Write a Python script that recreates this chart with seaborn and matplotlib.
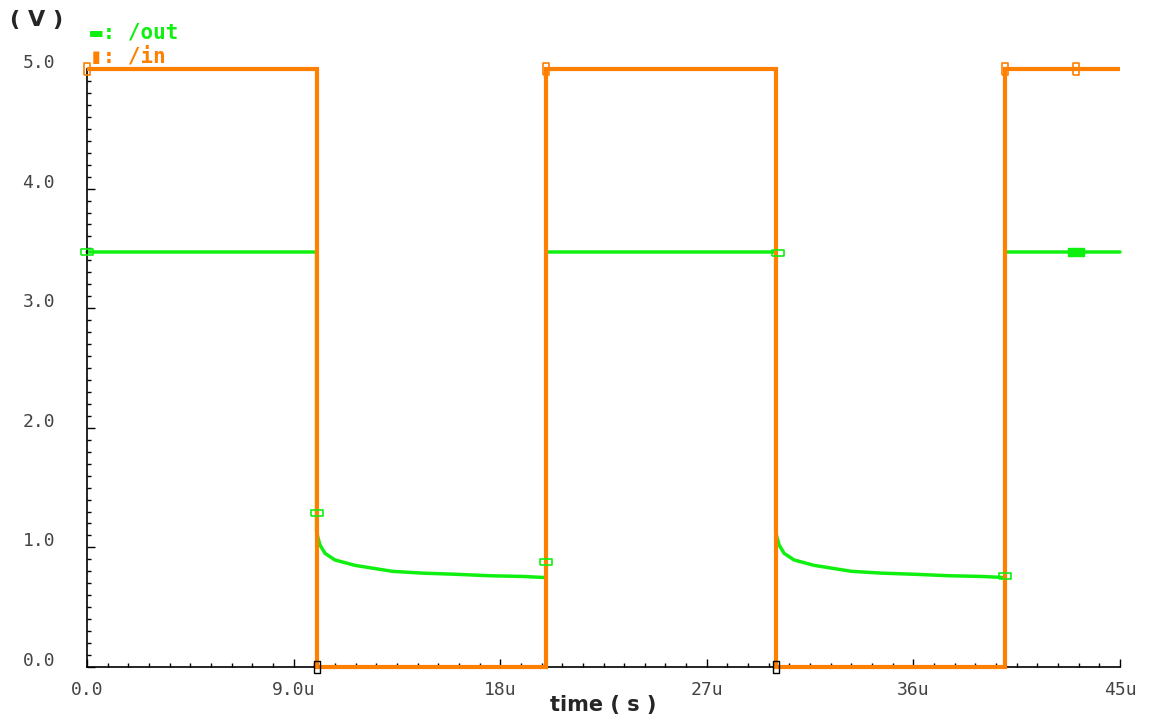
import matplotlib
matplotlib.use("Agg")
import matplotlib.pyplot as plt
import matplotlib.transforms as mtransforms
import seaborn as sns

# temps en microsecondes, tensions en volts
t_in = [0, 10, 10, 20, 20, 30, 30, 40, 40, 45]
v_in = [5, 5, 0, 0, 5, 5, 0, 0, 5, 5]

t_out = [0, 10, 10, 10.05, 10.15, 10.37, 10.8, 11.67, 13.3, 14.6, 16.1, 17.55, 19.0, 19.95,
         20, 20, 30, 30, 30.05, 30.15, 30.37, 30.8, 31.67, 33.3, 34.6, 36.1, 37.55, 39.0, 39.95,
         40, 40, 45]
v_out = [3.47, 3.47, 1.14, 1.09, 1.02, 0.95, 0.895, 0.85, 0.80, 0.785, 0.775, 0.763, 0.757, 0.748,
         0.748, 3.47, 3.47, 1.13, 1.09, 1.02, 0.95, 0.895, 0.85, 0.80, 0.785, 0.775, 0.763, 0.757, 0.748,
         0.748, 3.47, 3.47]

# marqueurs du viewer
mk_out_t = [0, 10, 20, 30.1, 40]
mk_out_v = [3.47, 1.29, 0.88, 3.46, 0.76]
mk_out_fill_t = [43.1]
mk_out_fill_v = [3.47]
mk_in_t = [0, 20, 40, 43.1]
mk_in_v = [5, 5, 5, 5]
mk_in_low_t = [10, 30]
mk_in_low_v = [0, 0]

x_ticks = [0, 9, 18, 27, 36, 45]
x_labels = ["0.0", "9.0u", "18u", "27u", "36u", "45u"]
y_ticks = [0, 1, 2, 3, 4, 5]
y_labels = ["0.0", "1.0", "2.0", "3.0", "4.0", "5.0"]

VERT = "#10F010"
ORANGE = "#FF8000"

sns.set_style("white")
plt.rcParams["font.family"] = ["DejaVu Sans Mono", "DejaVu Sans"]

fig = plt.figure(figsize=(11.49, 7.23), dpi=100)
ax = fig.add_axes([87 / 1149, 1 - 667 / 723, (1120 - 87) / 1149, (667 - 69) / 723])

sns.lineplot(x=t_out, y=v_out, sort=False, estimator=None, color=VERT,
             linewidth=2.5, ax=ax, clip_on=False, zorder=2)
sns.lineplot(x=t_in, y=v_in, sort=False, estimator=None, color=ORANGE,
             linewidth=3.0, ax=ax, clip_on=False, zorder=3,
             solid_joinstyle="miter", solid_capstyle="butt")

rect_large = [(-2, -1), (2, -1), (2, 1), (-2, 1), (-2, -1)]
rect_haut = [(-1, -2), (1, -2), (1, 2), (-1, 2), (-1, -2)]
ax.plot(mk_out_t, mk_out_v, ls="none", marker=rect_large, ms=9, mfc="none",
        mec=VERT, mew=1.2, clip_on=False, zorder=4)
ax.plot(mk_out_fill_t, mk_out_fill_v, ls="none", marker=rect_large, ms=11, mfc=VERT,
        mec=VERT, clip_on=False, zorder=4)
ax.plot(mk_in_t, mk_in_v, ls="none", marker=rect_haut, ms=8, mfc="none",
        mec=ORANGE, mew=1.2, clip_on=False, zorder=4)
ax.plot(mk_in_low_t, mk_in_low_v, ls="none", marker=rect_haut, ms=8, mfc="none",
        mec="black", mew=1.0, clip_on=False, zorder=4)

ax.set_xlim(0, 45)
ax.set_ylim(0, 5)
ax.set_xticks(x_ticks)
ax.set_xticklabels(x_labels)
ax.set_yticks(y_ticks)
ax.set_yticklabels(y_labels, va="center")
ax.set_xticks([i * 0.9 for i in range(51)], minor=True)
ax.set_yticks([i * 0.1 for i in range(51)], minor=True)
ax.tick_params(which="both", bottom=True, left=True, top=False, right=False)
ax.tick_params(which="major", direction="in", length=6, width=1, color="black",
               labelsize=13, labelcolor="#444444")
ax.tick_params(which="minor", direction="in", length=3, width=1, color="black")
ax.tick_params(axis="x", which="major", pad=10)
ax.tick_params(axis="y", which="major", pad=23)
ax.set_xlabel("")
ax.set_ylabel("")

# étiquettes y légèrement au-dessus du tick
decal = mtransforms.ScaledTranslation(0, 6 / 100, fig.dpi_scale_trans)
for lab in ax.get_yticklabels():
    lab.set_transform(lab.get_transform() + decal)

for s in ["top", "right"]:
    ax.spines[s].set_visible(False)
for s in ["left", "bottom"]:
    ax.spines[s].set_color("black")
    ax.spines[s].set_linewidth(1.2)

fig.text(10 / 1149, 1 - 20 / 723, "( V )", fontsize=16, fontweight="bold",
         family=["DejaVu Sans"], va="center", ha="left")
fig.text(90 / 1149, 1 - 38 / 723, "\u25ac: /out", fontsize=15, fontweight="bold",
         color=VERT, va="baseline", ha="left")
fig.text(90 / 1149, 1 - 63 / 723, "\u25ae: /in", fontsize=15, fontweight="bold",
         color=ORANGE, va="baseline", ha="left")
fig.text(603 / 1149, 1 - 705 / 723, "time ( s )", fontsize=15, fontweight="bold",
         family=["DejaVu Sans"], va="center", ha="center")

fig.savefig("out.png", dpi=100)
